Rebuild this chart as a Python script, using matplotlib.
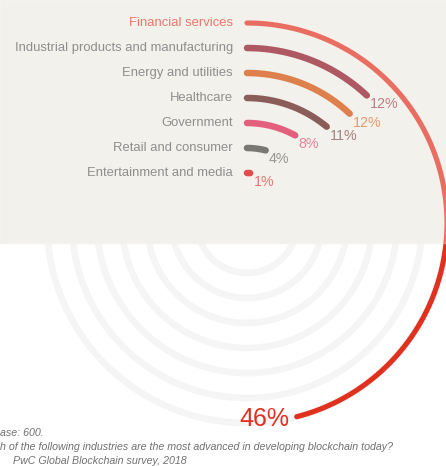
import numpy as np
import matplotlib
matplotlib.use("Agg")
import matplotlib.pyplot as plt
from matplotlib.patches import Rectangle

plt.rcParams['font.family'] = ['Liberation Sans', 'DejaVu Sans']

# data
industries = [
    "Financial services",
    "Industrial products and manufacturing",
    "Energy and utilities",
    "Healthcare",
    "Government",
    "Retail and consumer",
    "Entertainment and media",
]
shares = [46, 12, 12, 11, 8, 4, 1]
bar_colors = ["#e0301e", "#8a1020", "#d04a00", "#581613",
              "#d61c47", "#413e39", "#d60000"]
footnotes = [
    "ase: 600.",
    "h of the following industries are the most advanced in developing blockchain today?",
    "PwC Global Blockchain survey, 2018",
]

W, H = 446, 466
CX, CY = 247, 223
R_OUTER = 200
STEP = 25

fig = plt.figure(figsize=(W / 100, H / 100), dpi=100)
ax = fig.add_axes([0, 0, 1, 1])
ax.set_xlim(0, W)
ax.set_ylim(H, 0)
ax.axis('off')

# tinted band at the top (watermark area), hides the rings there
ax.add_patch(Rectangle((0, 0), W, 243, color="#eeebe3", zorder=2))

circle = np.linspace(0, 2 * np.pi, 400)
for i, (name, val, col) in enumerate(zip(industries, shares, bar_colors)):
    r = R_OUTER - i * STEP
    # background track ring
    ax.plot(CX + r * np.sin(circle), CY - r * np.cos(circle),
            color="#f5f5f5", lw=4.8, zorder=1)

    theta = np.linspace(0, val / 100 * 2 * np.pi, 300)
    x = CX + r * np.sin(theta)
    y = CY - r * np.cos(theta)
    lw = 3.7 if i == 0 else 4.7
    ax.plot(x, y, color=col, lw=lw, solid_capstyle='round', zorder=3)

    ax.text(CX - 14, CY - r, name, ha='right', va='center', fontsize=9.4,
            color="#de3e2d" if i == 0 else "#5e5e5e", zorder=4)

    if i == 0:
        ax.annotate(f"{val}%", xy=(x[-1], y[-1]), xytext=(-5, -2),
                    textcoords='offset points', ha='right', va='center',
                    fontsize=18, color=col, zorder=4)
    else:
        ax.annotate(f"{val}%", xy=(x[-1], y[-1]), xytext=(2.5, -6.5),
                    textcoords='offset points', ha='left', va='center',
                    fontsize=10.3, color=col, alpha=0.75, zorder=4)

# whitish veil over the top band
ax.add_patch(Rectangle((0, 0), W, 243, color="white", alpha=0.3, zorder=5))

for k, line in enumerate(footnotes):
    ax.text(0 if k < 2 else 13, 433 + k * 14, line, ha='left', va='center',
            fontsize=7.7, style='italic', color="#707070", zorder=6)

fig.savefig("out.png", dpi=100)
